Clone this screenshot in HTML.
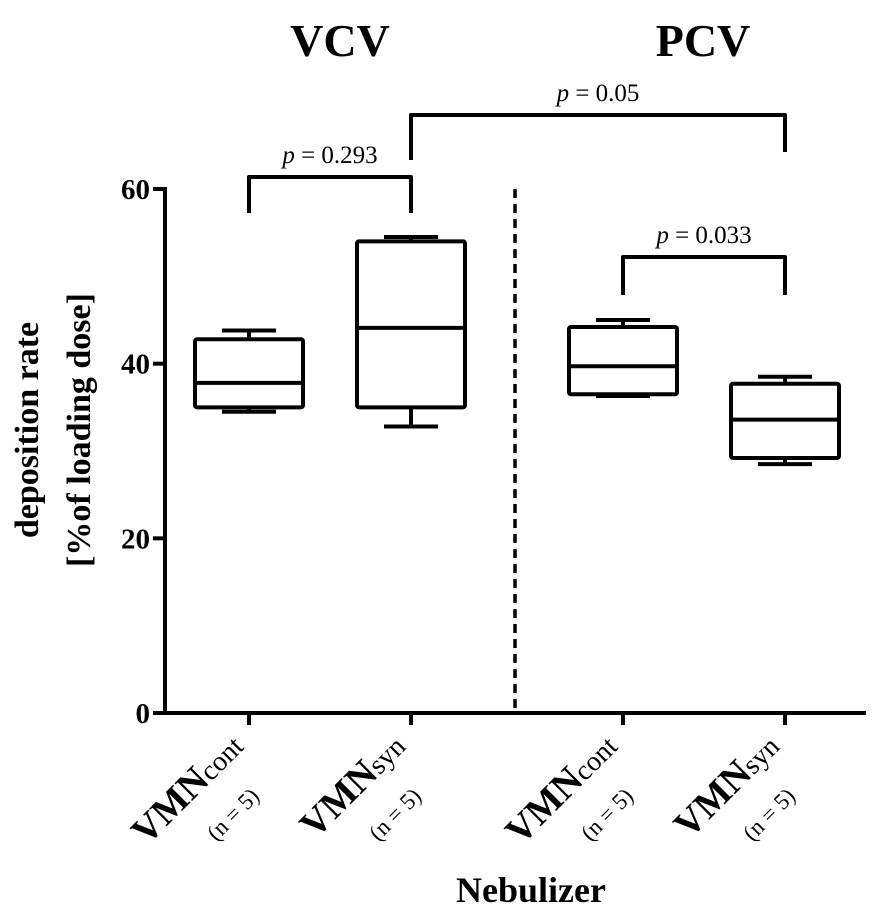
<!DOCTYPE html>
<html><head><meta charset="utf-8"><style>
html,body{margin:0;padding:0;background:#fff;}
svg{display:block;font-family:"Liberation Serif",serif;}
</style></head><body>
<svg id="chart" width="890" height="922" viewBox="0 0 890 922">
<g id="static"></g>
</svg>
<script>
const categories=["VMNcont","VMNsyn","VMNcont","VMNsyn"];
const subs=["cont","syn","cont","syn"];
const whiskerHigh=[43.8,54.5,45.0,38.5];
const q3=[42.8,54.0,44.2,37.7];
const medians=[37.8,44.1,39.7,33.6];
const q1=[35.0,35.0,36.5,29.2];
const whiskerLow=[34.5,32.8,36.3,28.5];
const yTicks=[0,20,40,60];
const catX=[249,411,623,785];
const svg=document.getElementById('chart');
const NS='http://www.w3.org/2000/svg';
const y=v=>713-v*8.733;
function mk(tag,attrs,parent){const e=document.createElementNS(NS,tag);for(const k in attrs)e.setAttribute(k,attrs[k]);(parent||svg).appendChild(e);return e;}
const S={stroke:'#000','stroke-width':4,fill:'none'};
let ax=mk('line',Object.assign({x1:165,y1:187,x2:165,y2:715},S));

ax=mk('line',Object.assign({x1:163,y1:713,x2:866,y2:713},S));

yTicks.forEach(t=>{
 const l=mk('line',Object.assign({x1:153,y1:y(t),x2:165,y2:y(t)},S));
 
 const tx=mk('text',{x:150,y:y(t)+10,'text-anchor':'end','font-size':29,'font-weight':'bold'});
 tx.textContent=t;
 
});
const bw=54,cw=27;
categories.forEach((c,i)=>{
 const x=catX[i];
 const t=mk('line',Object.assign({x1:x,y1:713,x2:x,y2:725},S));
 
 const g=mk('g',{});
 
 mk('line',Object.assign({x1:x,y1:y(whiskerHigh[i]),x2:x,y2:y(q3[i])},S),g);
 mk('line',Object.assign({x1:x,y1:y(whiskerLow[i]),x2:x,y2:y(q1[i])},S),g);
 mk('line',Object.assign({x1:x-cw,y1:y(whiskerHigh[i]),x2:x+cw,y2:y(whiskerHigh[i])},S),g);
 mk('line',Object.assign({x1:x-cw,y1:y(whiskerLow[i]),x2:x+cw,y2:y(whiskerLow[i])},S),g);
 mk('rect',Object.assign({x:x-bw,y:y(q3[i]),width:2*bw,height:y(q1[i])-y(q3[i]),rx:2},S),g);
 mk('line',Object.assign({x1:x-bw,y1:y(medians[i]),x2:x+bw,y2:y(medians[i])},S),g);
 const lg=mk('g',{transform:`translate(${x-4},${748}) rotate(-45)`});
 
 const tx=mk('text',{x:0,y:0,'text-anchor':'end'},lg);
 const a=mk('tspan',{'font-size':38,'font-weight':'bold'},tx);a.textContent='VMN';
 const b=mk('tspan',{'font-size':28},tx);b.textContent=subs[i];
 const n=mk('text',{x:-24,y:46,'text-anchor':'end','font-size':23},lg);n.textContent='(n = 5)';
});
const d=mk('line',{x1:515,y1:189,x2:515,y2:713,stroke:'#000','stroke-width':3.5,'stroke-dasharray':'9,6'});

function bracket(x1,x2,top,b1,b2,label,name,ty){
 const p=mk('path',Object.assign({d:`M${x1},${b1} L${x1},${top} L${x2},${top} L${x2},${b2}`,'stroke-linejoin':'round'},S));
 
 const t=mk('text',{x:(x1+x2)/2,y:ty,'text-anchor':'middle','font-size':25});
 const i=mk('tspan',{'font-style':'italic'},t);i.textContent='p';
 const r=mk('tspan',{},t);r.textContent=' = '+label;
 
}
bracket(249,411,177,213,213,'0.293','bracket-vcv',163);
bracket(411,785,115,160,152,'0.05','bracket-syn',101);
bracket(623,785,257,295,295,'0.033','bracket-pcv',243);
[['VCV',340,'title-vcv'],['PCV',703,'title-pcv']].forEach(([s,x,n])=>{
 const t=mk('text',{x:x,y:56,'text-anchor':'middle','font-size':46,'font-weight':'bold'});t.textContent=s;
 
});
const yl=mk('text',{transform:'translate(38,430) rotate(-90)','text-anchor':'middle','font-size':34,'font-weight':'bold'});
yl.textContent='deposition rate';

const yl2=mk('text',{transform:'translate(90,430) rotate(-90)','text-anchor':'middle','font-size':34,'font-weight':'bold'});
yl2.textContent='[%of loading dose]';

const xl=mk('text',{x:531,y:902,'text-anchor':'middle','font-size':36,'font-weight':'bold'});
xl.textContent='Nebulizer';

</script>
</body></html>
